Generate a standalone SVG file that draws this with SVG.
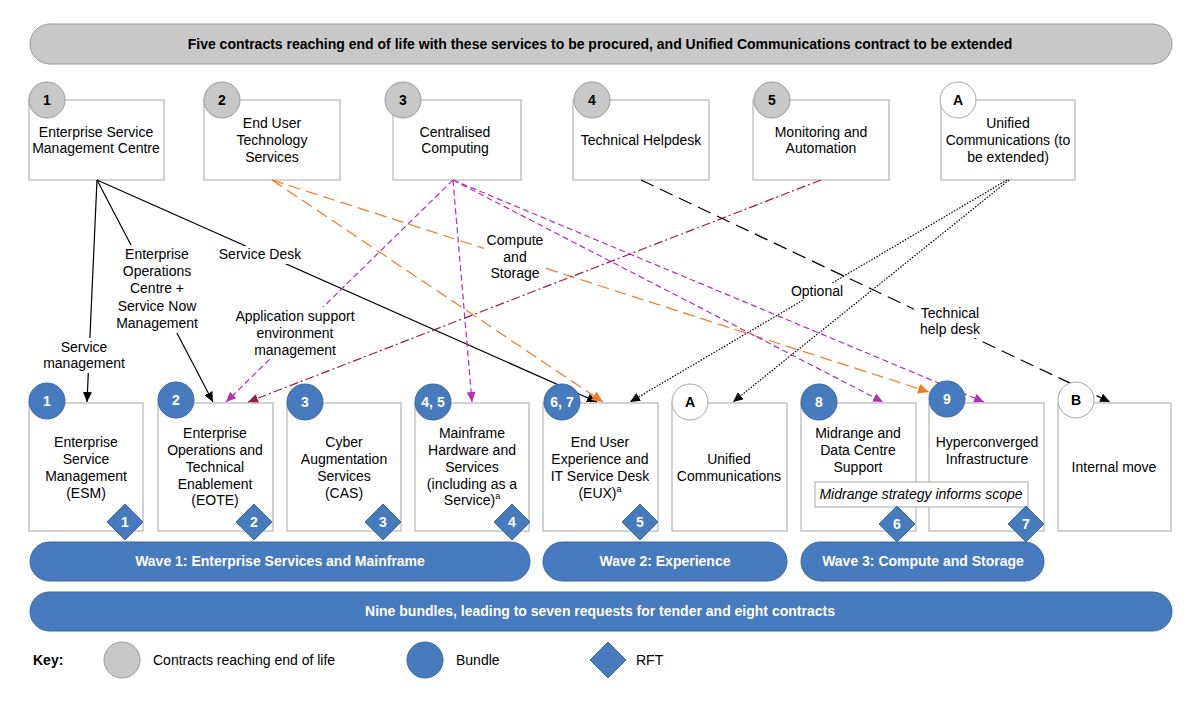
<svg xmlns="http://www.w3.org/2000/svg" width="1200" height="702" viewBox="0 0 1200 702">
<defs>
<style>
text{font-family:"Liberation Sans",Arial,sans-serif;font-size:14px;fill:#000;text-anchor:middle}
.box{fill:#fff;stroke:#a6a6a6;stroke-width:1}
.grey{fill:#c8c8c8;stroke:#999;stroke-width:1}
.blue{fill:#477bbd;stroke:#3a6699;stroke-width:1}
.white{fill:#fff;stroke:#a6a6a6;stroke-width:1}
.num{font-weight:bold}
.wnum{font-weight:bold;fill:#fff}
.bar{font-weight:bold;fill:#fff;font-size:14px}
.lbl{fill:#fff;stroke:none}
.ln{fill:none;stroke-width:1.2}
.blk{stroke:#000}
.or{stroke:#f47920;stroke-dasharray:12 6}
.pu{stroke:#b32fb3;stroke-dasharray:6 3.5}
.ma{stroke:#9b1b4f;stroke-dasharray:9 3 2 3}
.bd{stroke:#000;stroke-dasharray:14 7}
.dt{stroke:#000;stroke-dasharray:1.5 1.5}
</style>
<marker id="aK" markerWidth="10" markerHeight="9" refX="10" refY="4.5" orient="auto" markerUnits="userSpaceOnUse"><path d="M0,0 L10,4.5 L0,9 z" fill="#000"/></marker>
<marker id="aO" markerWidth="11" markerHeight="10" refX="11" refY="5" orient="auto" markerUnits="userSpaceOnUse"><path d="M0,0 L11,5 L0,10 z" fill="#f47920"/></marker>
<marker id="aP" markerWidth="10" markerHeight="9" refX="10" refY="4.5" orient="auto" markerUnits="userSpaceOnUse"><path d="M0,0 L10,4.5 L0,9 z" fill="#b32fb3"/></marker>
<marker id="aM" markerWidth="10" markerHeight="9" refX="10" refY="4.5" orient="auto" markerUnits="userSpaceOnUse"><path d="M0,0 L10,4.5 L0,9 z" fill="#9b1b4f"/></marker>
</defs>
<rect width="1200" height="702" fill="#fff"/>

<g id="banner">
<rect class="grey" x="30" y="24" width="1142" height="40" rx="20"/>
<text x="600" y="49" style="font-weight:bold;font-size:14px">Five contracts reaching end of life with these services to be procured, and Unified Communications contract to be extended</text>
</g>

<g id="contract1"><rect class="box" x="29" y="100" width="135" height="80"/><circle class="grey" cx="47" cy="100" r="18"/><text class="num" x="47" y="105">1</text>
<text x="96" y="137">Enterprise Service</text><text x="96" y="153">Management Centre</text></g>
<g id="contract2"><rect class="box" x="204" y="100" width="136" height="80"/><circle class="grey" cx="222" cy="100" r="18"/><text class="num" x="222" y="105">2</text>
<text x="272" y="128">End User</text><text x="272" y="145">Technology</text><text x="272" y="162">Services</text></g>
<g id="contract3"><rect class="box" x="393" y="100" width="128" height="80"/><circle class="grey" cx="403" cy="100" r="18"/><text class="num" x="403" y="105">3</text>
<text x="455" y="137">Centralised</text><text x="455" y="153">Computing</text></g>
<g id="contract4"><rect class="box" x="573" y="100" width="136" height="80"/><circle class="grey" cx="592" cy="100" r="18"/><text class="num" x="592" y="105">4</text>
<text x="641" y="145">Technical Helpdesk</text></g>
<g id="contract5"><rect class="box" x="753" y="100" width="136" height="80"/><circle class="grey" cx="772" cy="100" r="18"/><text class="num" x="772" y="105">5</text>
<text x="821" y="137">Monitoring and</text><text x="821" y="153">Automation</text></g>
<g id="contractA"><rect class="box" x="941" y="100" width="134" height="80"/><circle class="white" cx="958" cy="100" r="18"/><text class="num" x="958" y="105">A</text>
<text x="1008" y="128">Unified</text><text x="1008" y="145">Communications (to</text><text x="1008" y="162">be extended)</text></g>

<g id="bundleboxes">
<g id="b1"><rect class="box" x="29" y="403" width="114" height="128"/>
<text x="86" y="447">Enterprise</text><text x="86" y="464">Service</text><text x="86" y="481">Management</text><text x="86" y="498">(ESM)</text></g>
<g id="b2"><rect class="box" x="158" y="403" width="115" height="128"/>
<text x="215" y="438">Enterprise</text><text x="215" y="455">Operations and</text><text x="215" y="472">Technical</text><text x="215" y="489">Enablement</text><text x="215" y="505">(EOTE)</text></g>
<g id="b3"><rect class="box" x="287" y="403" width="114" height="128"/>
<text x="344" y="447">Cyber</text><text x="344" y="464">Augmentation</text><text x="344" y="481">Services</text><text x="344" y="498">(CAS)</text></g>
<g id="b45"><rect class="box" x="415" y="403" width="114" height="128"/>
<text x="472" y="438">Mainframe</text><text x="472" y="455">Hardware and</text><text x="472" y="472">Services</text><text x="472" y="489">(including as a</text><text x="472" y="505">Service)<tspan font-size="9" dy="-6">a</tspan></text></g>
<g id="b67"><rect class="box" x="543" y="403" width="115" height="128"/>
<text x="600" y="447">End User</text><text x="600" y="464">Experience and</text><text x="600" y="481">IT Service Desk</text><text x="600" y="498">(EUX)<tspan font-size="9" dy="-6">a</tspan></text></g>
<g id="bA"><rect class="box" x="672" y="403" width="115" height="128"/>
<text x="729" y="464">Unified</text><text x="729" y="481">Communications</text></g>
<g id="b8"><rect class="box" x="801" y="403" width="115" height="128"/>
<text x="858" y="438">Midrange and</text><text x="858" y="455">Data Centre</text><text x="858" y="472">Support</text></g>
<g id="b9"><rect class="box" x="929" y="403" width="115" height="128"/>
<text x="987" y="447">Hyperconverged</text><text x="987" y="464">Infrastructure</text></g>
<g id="bB"><rect class="box" x="1058" y="403" width="113" height="128"/>
<text x="1114" y="472">Internal move</text></g>
</g>

<g id="connectors">
<line class="ln blk" x1="97" y1="180" x2="87" y2="402" marker-end="url(#aK)"/>
<line class="ln blk" x1="97" y1="180" x2="213" y2="402" marker-end="url(#aK)"/>
<line class="ln blk" x1="97" y1="180" x2="597" y2="402" marker-end="url(#aK)"/>
<line class="ln or" x1="272" y1="180" x2="603" y2="402" marker-end="url(#aO)"/>
<line class="ln or" x1="272" y1="180" x2="929" y2="392" marker-end="url(#aO)"/>
<line class="ln pu" x1="453" y1="180" x2="226" y2="402" marker-end="url(#aP)"/>
<line class="ln pu" x1="453" y1="180" x2="472" y2="402" marker-end="url(#aP)"/>
<line class="ln pu" x1="453" y1="180" x2="883" y2="402" marker-end="url(#aP)"/>
<line class="ln pu" x1="453" y1="180" x2="984" y2="402" marker-end="url(#aP)"/>
<line class="ln ma" x1="821" y1="180" x2="248" y2="402" marker-end="url(#aM)"/>
<line class="ln bd" x1="641" y1="180" x2="1110" y2="402" marker-end="url(#aK)"/>
<line class="ln dt" x1="1007" y1="180" x2="630" y2="402" marker-end="url(#aK)"/>
<line class="ln dt" x1="1009" y1="180" x2="733" y2="402" marker-end="url(#aK)"/>
<g id="labels">
<rect class="lbl" x="44" y="338" width="80" height="35"/>
<text x="84" y="352">Service</text><text x="84" y="368">management</text>
<rect class="lbl" x="113" y="245" width="88" height="88"/>
<text x="157" y="259">Enterprise</text><text x="157" y="276">Operations</text><text x="157" y="293">Centre +</text><text x="157" y="311">Service Now</text><text x="157" y="328">Management</text>
<rect class="lbl" x="218" y="246" width="84" height="18"/>
<text x="260" y="259">Service Desk</text>
<rect class="lbl" x="234" y="307" width="122" height="52"/>
<text x="295" y="321">Application support</text><text x="295" y="338">environment</text><text x="295" y="355">management</text>
<rect class="lbl" x="484" y="231" width="62" height="52"/>
<text x="515" y="245">Compute</text><text x="515" y="262">and</text><text x="515" y="278">Storage</text>
<rect class="lbl" x="788" y="283" width="58" height="17"/>
<text x="817" y="296">Optional</text>
<rect class="lbl" x="914" y="303" width="72" height="35"/>
<text x="950" y="318">Technical</text><text x="950" y="334">help desk</text>
</g>
</g>

<g id="markers">
<circle class="blue" cx="47" cy="401" r="18"/><text class="wnum" x="47" y="406">1</text>
<circle class="blue" cx="176" cy="400" r="18"/><text class="wnum" x="176" y="405">2</text>
<circle class="blue" cx="305" cy="402" r="18"/><text class="wnum" x="305" y="407">3</text>
<circle class="blue" cx="433" cy="402" r="18"/><text class="wnum" x="433" y="407">4, 5</text>
<circle class="blue" cx="562" cy="402" r="18"/><text class="wnum" x="562" y="407">6, 7</text>
<circle class="white" cx="690" cy="402" r="18"/><text class="num" x="690" y="407">A</text>
<circle class="blue" cx="819" cy="402" r="18"/><text class="wnum" x="819" y="407">8</text>
<circle class="blue" cx="947" cy="399" r="18"/><text class="wnum" x="947" y="404">9</text>
<circle class="white" cx="1076" cy="400" r="18"/><text class="num" x="1076" y="405">B</text>
</g>

<g id="note"><rect x="815" y="482" width="213" height="25" fill="#fff" stroke="#a6a6a6"/>
<text x="921" y="499" style="font-style:italic">Midrange strategy informs scope</text></g>

<g id="rfts">
<path class="blue" d="M125,504 L143,522 L125,540 L107,522 z"/><text class="wnum" x="125" y="527">1</text>
<path class="blue" d="M254,504 L272,522 L254,540 L236,522 z"/><text class="wnum" x="254" y="527">2</text>
<path class="blue" d="M383,504 L401,522 L383,540 L365,522 z"/><text class="wnum" x="383" y="527">3</text>
<path class="blue" d="M512,504 L530,522 L512,540 L494,522 z"/><text class="wnum" x="512" y="527">4</text>
<path class="blue" d="M640,504 L658,522 L640,540 L622,522 z"/><text class="wnum" x="640" y="527">5</text>
<path class="blue" d="M897,506 L915,524 L897,542 L879,524 z"/><text class="wnum" x="897" y="529">6</text>
<path class="blue" d="M1026,506 L1044,524 L1026,542 L1008,524 z"/><text class="wnum" x="1026" y="529">7</text>
</g>

<g id="waves">
<rect class="blue" x="30" y="542" width="500" height="39" rx="19.5"/><text class="bar" x="280" y="566">Wave 1: Enterprise Services and Mainframe</text>
<rect class="blue" x="543" y="542" width="244" height="39" rx="19.5"/><text class="bar" x="665" y="566">Wave 2: Experience</text>
<rect class="blue" x="801" y="542" width="243" height="39" rx="19.5"/><text class="bar" x="923" y="566">Wave 3: Compute and Storage</text>
<rect class="blue" x="30" y="592" width="1142" height="39" rx="19.5"/><text class="bar" x="600" y="616">Nine bundles, leading to seven requests for tender and eight contracts</text>
</g>

<g id="key">
<text x="33" y="665" style="font-weight:bold;text-anchor:start">Key:</text>
<circle class="grey" cx="122" cy="660" r="18"/>
<text x="153" y="665" style="text-anchor:start">Contracts reaching end of life</text>
<circle class="blue" cx="425" cy="660" r="18"/>
<text x="456" y="665" style="text-anchor:start">Bundle</text>
<path class="blue" d="M608,642 L626,660 L608,678 L590,660 z"/>
<text x="636" y="665" style="text-anchor:start">RFT</text>
</g>
</svg>
